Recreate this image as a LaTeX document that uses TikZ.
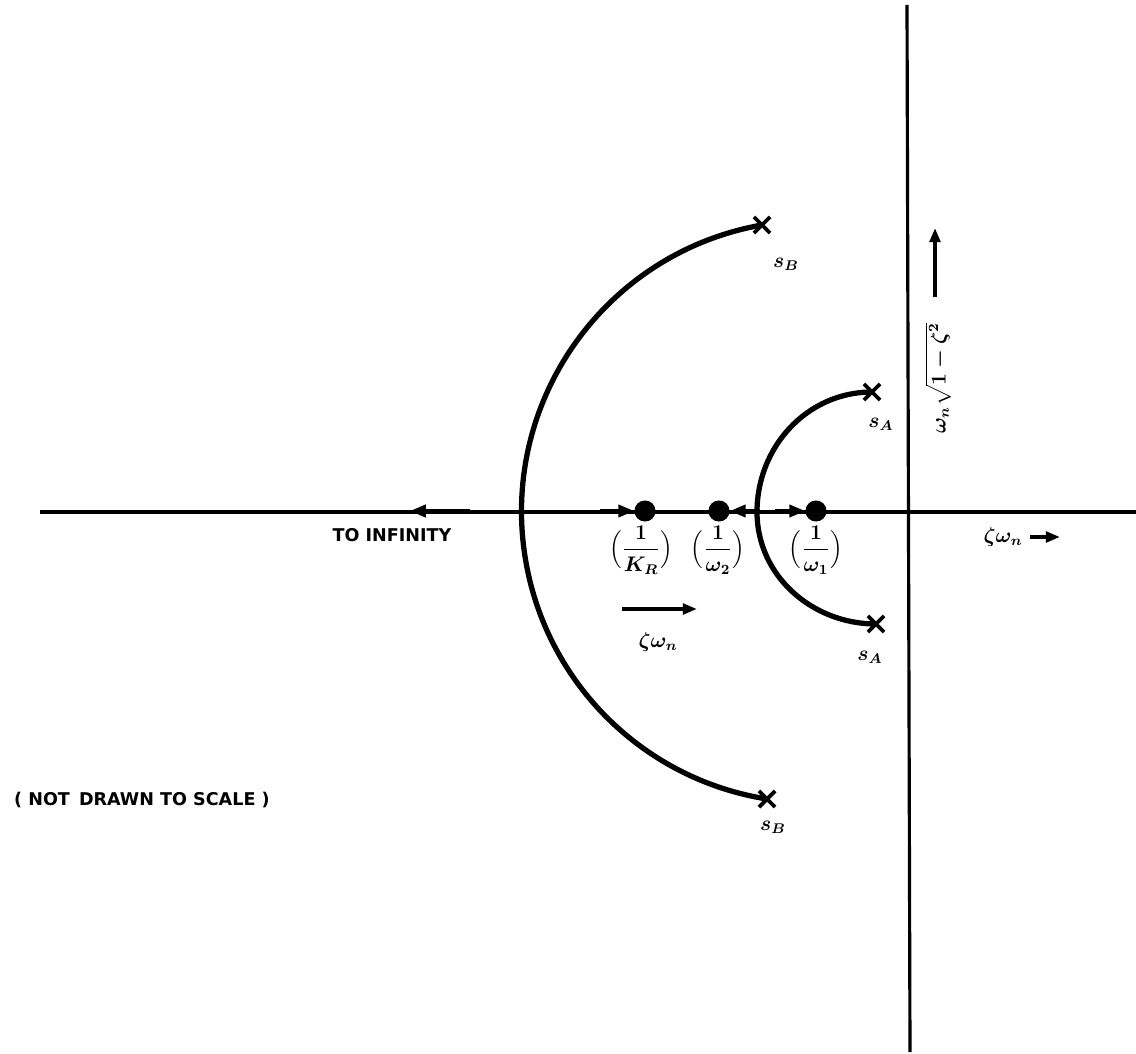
\documentclass[tikz,border=0pt]{standalone}
\usepackage{fontspec}
\setsansfont{DejaVu Sans}
\usepackage{amsmath}
\usepackage{bm}
\usetikzlibrary{arrows.meta,shapes.misc}
\begin{document}
\begin{tikzpicture}[x={(0.02cm,0)},y={(0,-0.02cm)},
  axisline/.style={line width=1.8pt},
  locus/.style={line width=3pt},
  pointdot/.style={circle,fill=black,inner sep=0pt,minimum size=12},
  xmark/.style={cross out,draw=black,line width=2.2pt,minimum size=7pt,inner sep=0pt},
  lbl/.style={font=\sffamily\bfseries\fontsize{10}{12}\selectfont},
  mlbl/.style={font=\large},
  dirarrow/.style={line width=2pt,-{Triangle[length=8pt,width=6pt]}},
  axarrow/.style={line width=1.8pt,-{Triangle[length=9pt,width=7pt]}}]
\useasboundingbox (0,0) rectangle (1136,1054);
% axes
\coordinate (hl) at (40,512);
\coordinate (hr) at (1136,512);
\coordinate (vt) at (907,5);
\coordinate (vb) at (910,1052);
\draw[axisline] (hl) -- (hr);
\draw[axisline] (vt) -- (vb);
% poles
\node[xmark] (pB1) at (762,225) {};
\node[xmark] (pA1) at (872,392) {};
\node[xmark] (pA2) at (876,624) {};
% loci arcs
\draw[locus] (pB1.center) arc[start angle=-100,end angle=-261,radius=291] coordinate (bend);
\node[xmark] (pB2) at (bend) {};
\draw[locus] (pA1.center) to[out=180,in=90] (757,512) to[out=-90,in=180] (pA2.center);
% points on axis
\node[pointdot] (kr) at (645,511) {};
\node[pointdot] (w2) at (719,511) {};
\node[pointdot] (w1) at (816,511) {};
% arrows along real axis
\coordinate (a1s) at (600,511);
\draw[axarrow] (a1s) -- (kr.west);
\coordinate (a2s) at (760,511);
\draw[axarrow] (a2s) -- (w2.east);
\coordinate (a3s) at (775,511);
\draw[axarrow] (a3s) -- (w1.west);
\coordinate (a4s) at (470,511);
\coordinate (a4e) at (410,511);
\draw[axarrow] (a4s) -- (a4e);
% labels on axis points
\node[mlbl] (lkr) at (641,550) {$\boldsymbol{\Bigl(\dfrac{1}{K_R}\Bigr)}$};
\node[mlbl] (lw2) at (718,550) {$\boldsymbol{\Bigl(\dfrac{1}{\omega_2}\Bigr)}$};
\node[mlbl] (lw1) at (816,550) {$\boldsymbol{\Bigl(\dfrac{1}{\omega_1}\Bigr)}$};
\node[lbl] (inf) at (392,535) {TO INFINITY};
% pole labels
\node[mlbl] (sB1) at (786,264) {$\boldsymbol{s_B}$};
\node[mlbl] (sB2) at (773,827) {$\boldsymbol{s_B}$};
\node[mlbl] (sA1) at (881,424) {$\boldsymbol{s_A}$};
\node[mlbl] (sA2) at (870,657) {$\boldsymbol{s_A}$};
% real axis label
\node[mlbl] (zr) at (1003,537) {$\boldsymbol{\zeta\omega_n}$};
\coordinate (zra) at (1030,537);
\coordinate (zrb) at (1060,537);
\draw[dirarrow] (zra) -- (zrb);
% arrow under axis
\coordinate (ua) at (622,609);
\coordinate (ub) at (697,609);
\draw[dirarrow] (ua) -- (ub);
\node[mlbl] (zu) at (658,642) {$\boldsymbol{\zeta\omega_n}$};
% imaginary axis label
\coordinate (va) at (935,297);
\coordinate (vb2) at (935,228);
\draw[dirarrow] (va) -- (vb2);
\node[mlbl,rotate=90] (wi) at (938,378) {$\boldsymbol{\omega_n\sqrt{1-\zeta^2}}$};
% note
\node[lbl,anchor=west] (note) at (8,800) {( NOT \,DRAWN TO SCALE )};
\end{tikzpicture}
\end{document}
